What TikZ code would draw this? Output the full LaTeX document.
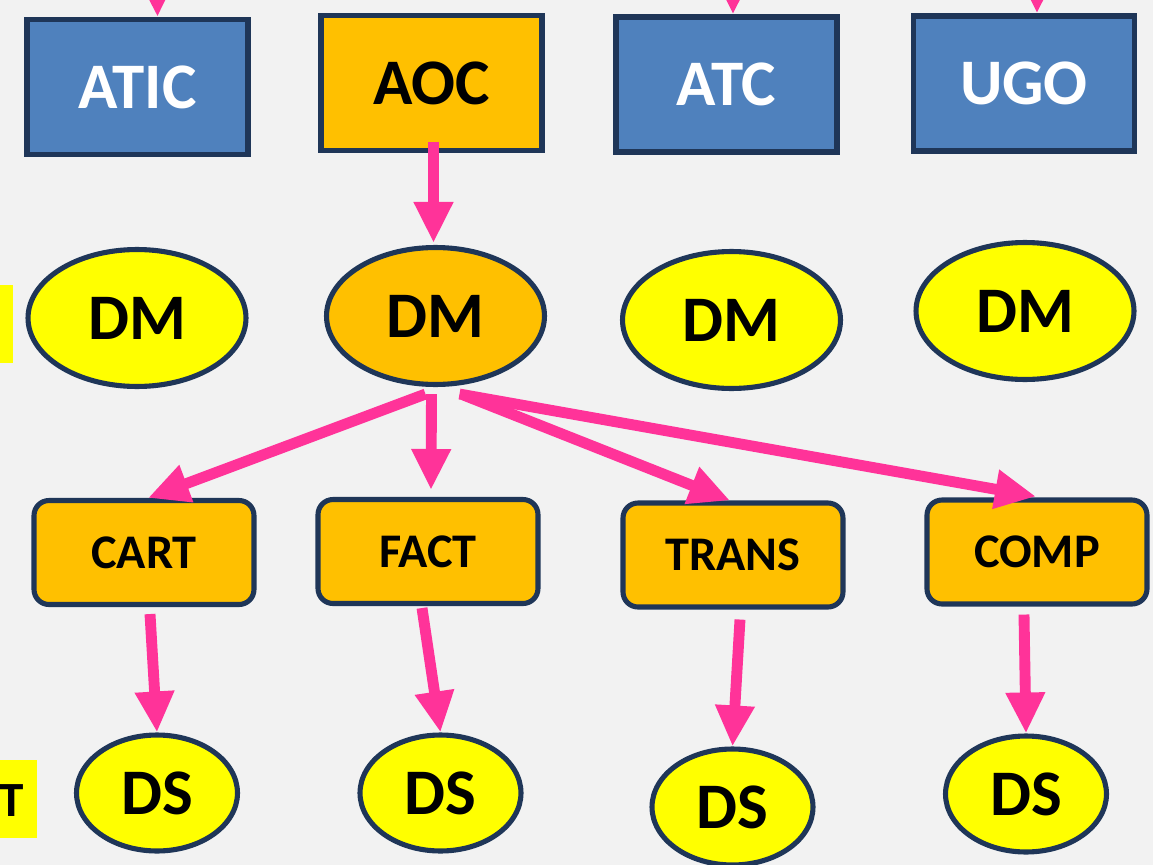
\documentclass[tikz,border=0pt]{standalone}
\usepackage{fontspec}
\setmainfont{Carlito}
\usetikzlibrary{shapes.geometric,arrows.meta,calc}
\definecolor{bg}{HTML}{F2F2F2}
\definecolor{navy}{HTML}{1F3658}
\definecolor{steel}{HTML}{4F81BD}
\definecolor{amber}{HTML}{FFC000}
\definecolor{lemon}{HTML}{FFFF00}
\definecolor{pink}{HTML}{FF3399}
\tikzset{
  unitbox/.style={draw=navy, line width=2.9pt, rectangle, inner sep=0pt,
    minimum width=4.42cm, minimum height=2.7cm, font=\bfseries\fontsize{37}{42}\selectfont},
  bluebox/.style={unitbox, fill=steel, text=white},
  orangebox/.style={unitbox, fill=amber, text=black},
  dmoval/.style={draw=navy, line width=2.9pt, ellipse, inner sep=0pt,
    minimum width=4.36cm, minimum height=2.74cm, font=\bfseries\fontsize{37}{42}\selectfont},
  taskbox/.style={draw=navy, line width=2.9pt, rectangle, rounded corners=0.3cm, fill=amber,
    inner sep=0pt, minimum width=4.4cm, minimum height=2.08cm, font=\bfseries\fontsize{27.5}{32}\selectfont},
  dsoval/.style={draw=navy, line width=2.9pt, ellipse, fill=lemon, inner sep=0pt,
    minimum width=3.22cm, minimum height=2.32cm, font=\bfseries\fontsize{37}{42}\selectfont},
  tag/.style={fill=lemon, inner sep=0pt},
  arr/.style={draw=pink, line width=6.2pt,
    -{Triangle[length=0.82cm, width=0.74cm]}},
}
\begin{document}
\begin{tikzpicture}[x=0.02cm, y=-0.02cm]
  \fill[bg] (0,0) rectangle (1153,865);
  \useasboundingbox (0,0) rectangle (1153,865);

  % yellow tags on the left edge
  \node[tag, minimum width=0.26cm, minimum height=1.56cm] (tagdm) at (6.5,324) {};
  \node[tag, minimum width=0.74cm, minimum height=1.56cm] (tagds) at (18.5,799) {};
  \node[font=\bfseries\fontsize{28}{32}\selectfont, inner sep=0pt] (tagdst) at (12,801) {T};

  % units
  \node[bluebox] (atic) at (137.5,87) {ATIC};
  \node[orangebox] (aoc) at (431.5,83) {AOC};
  \node[bluebox] (atc) at (726.5,84.5) {ATC};
  \node[bluebox] (ugo) at (1024,83.5) {UGO};

  % data managers
  \node[dmoval, fill=lemon] (dm1) at (137,318) {DM};
  \node[dmoval, fill=amber] (dm2) at (435.5,316) {DM};
  \node[dmoval, fill=lemon] (dm3) at (731.5,320) {DM};
  \node[dmoval, fill=lemon] (dm4) at (1025,311) {DM};

  % tasks
  \node[taskbox] (cart) at (144,552.5) {CART};
  \node[taskbox] (fact) at (428,551.5) {FACT};
  \node[taskbox] (trans) at (733,555) {TRANS};
  \node[taskbox] (comp) at (1037,552) {COMP};

  % data stewards
  \node[dsoval] (ds1) at (157,793) {DS};
  \node[dsoval] (ds2) at (440.5,793) {DS};
  \node[dsoval] (ds3) at (732.5,807) {DS};
  \node[dsoval] (ds4) at (1026,794) {DS};

  % incoming links from above
  \coordinate (inatic) at (157,-30);
  \coordinate (inatc) at (733,-30);
  \coordinate (inugo) at (1037,-30);
  \draw[arr] (inatic) -- ($(atic.north)+(20,0)$);
  \draw[arr] (inatc) -- ($(atc.north)+(6.5,0)$);
  \draw[arr] (inugo) -- ($(ugo.north)+(13,0)$);

  % AOC to its data manager
  \draw[arr] ($(aoc.south)+(2,-11)$) -- ($(dm2.north)+(-2,-2)$);

  % data manager to tasks
  \draw[arr] ($(dm2.south)+(-10,7)$) -- ($(cart.north)+(4,0)$);
  \draw[arr] ($(dm2.south)+(-4,7)$) -- ($(fact.north)+(3,-7)$);
  \draw[arr] ($(dm2.south)+(28,8)$) -- ($(trans.north)+(-3,0)$);
  \draw[arr] ($(dm2.south)+(24,7)$) -- ($(comp.north)+(-1,-1)$);

  % tasks to data stewards
  \draw[arr] ($(cart.south)+(6,7)$) -- (ds1.north);
  \draw[arr] ($(fact.south)+(-6,2)$) -- (ds2.north);
  \draw[arr] ($(trans.south)+(7,10)$) -- (ds3.north);
  \draw[arr] ($(comp.south)+(-13,8)$) -- (ds4.north);
\end{tikzpicture}
\end{document}
